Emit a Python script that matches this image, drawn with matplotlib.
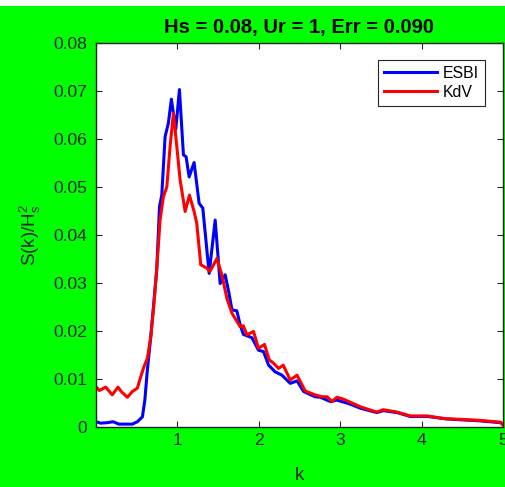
import matplotlib
matplotlib.use("Agg")
import matplotlib.pyplot as plt
from matplotlib.patches import Rectangle

# ---- data ----
k_esbi = [0.0, 0.057, 0.14, 0.21, 0.28, 0.385, 0.447, 0.508, 0.57, 0.60, 0.631, 0.673,
          0.713, 0.746, 0.78, 0.808, 0.849, 0.889, 0.926, 0.98, 1.025, 1.074, 1.107,
          1.144, 1.205, 1.267, 1.312, 1.39, 1.464, 1.525, 1.587, 1.63, 1.67, 1.73,
          1.771, 1.81, 1.915, 1.996, 2.058, 2.12, 2.2, 2.284, 2.386, 2.47, 2.55,
          2.69, 2.755, 2.88, 2.96, 3.1, 3.25, 3.45, 3.53, 3.7, 3.86, 4.07, 4.3,
          4.48, 4.7, 4.97, 5.0]
s_esbi = [0.0011, 0.0008, 0.0009, 0.0011, 0.0006, 0.0006, 0.0006, 0.0011, 0.0021, 0.0056,
          0.0119, 0.0188, 0.0265, 0.0327, 0.0459, 0.0483, 0.0605, 0.0633, 0.0683, 0.0620,
          0.0703, 0.0567, 0.0563, 0.0521, 0.0551, 0.0466, 0.0456, 0.0320, 0.0431, 0.0299,
          0.0317, 0.0282, 0.0244, 0.0242, 0.0213, 0.0193, 0.0186, 0.0160, 0.0157, 0.0129,
          0.0115, 0.0108, 0.0091, 0.0096, 0.0074, 0.0063, 0.0062, 0.0053, 0.0056, 0.0049,
          0.0039, 0.0030, 0.0034, 0.0030, 0.0022, 0.0022, 0.0017, 0.0015, 0.0013, 0.0009,
          0.0005]

k_kdv = [0.0, 0.04, 0.12, 0.2, 0.27, 0.31, 0.385, 0.447, 0.508, 0.55, 0.59, 0.631, 0.673,
         0.713, 0.754, 0.787, 0.828, 0.87, 0.91, 0.951, 0.993, 1.033, 1.095, 1.148,
         1.205, 1.238, 1.287, 1.36, 1.40, 1.485, 1.546, 1.608, 1.67, 1.71, 1.771, 1.81,
         1.853, 1.935, 1.996, 2.07, 2.128, 2.18, 2.243, 2.3, 2.386, 2.47, 2.57, 2.69,
         2.776, 2.84, 2.9, 2.96, 3.04, 3.25, 3.45, 3.53, 3.7, 3.86, 4.07, 4.3, 4.48,
         4.7, 4.97, 5.0]
s_kdv = [0.0084, 0.0076, 0.0083, 0.0067, 0.0083, 0.0074, 0.0062, 0.0074, 0.0081, 0.0105,
         0.0126, 0.0143, 0.0188, 0.0258, 0.0348, 0.0431, 0.0480, 0.0500, 0.0584, 0.0654,
         0.0584, 0.0515, 0.0449, 0.0483, 0.0449, 0.0424, 0.0338, 0.0331, 0.0324, 0.0351,
         0.0317, 0.0268, 0.0237, 0.0226, 0.0209, 0.0211, 0.0192, 0.0199, 0.0164, 0.0172,
         0.0140, 0.0133, 0.0122, 0.0129, 0.0098, 0.0108, 0.0075, 0.0067, 0.0063, 0.0063,
         0.0053, 0.0062, 0.0058, 0.0042, 0.0031, 0.0036, 0.0031, 0.0023, 0.0023, 0.0017,
         0.0016, 0.0014, 0.0010, 0.0004]

x_ticks = [1, 2, 3, 4, 5]
y_ticks = [0, 0.01, 0.02, 0.03, 0.04, 0.05, 0.06, 0.07, 0.08]
y_tick_labels = ["0", "0.01", "0.02", "0.03", "0.04", "0.05", "0.06", "0.07", "0.08"]
title_text = "Hs = 0.08, Ur = 1, Err = 0.090"

# ---- style ----
plt.rcParams['font.family'] = ['Liberation Sans', 'DejaVu Sans']
plt.rcParams['mathtext.fontset'] = 'custom'
plt.rcParams['mathtext.rm'] = 'Liberation Sans'
plt.rcParams['mathtext.it'] = 'Liberation Sans'
plt.rcParams['mathtext.default'] = 'regular'

W, H = 506, 487
fig = plt.figure(figsize=(W / 100, H / 100), dpi=100)
fig.patch.set_facecolor('#00ff00')
fig.patches.append(Rectangle((0, 1 - 6 / H), 1, 6 / H, transform=fig.transFigure,
                             facecolor='white', edgecolor='none', zorder=-1))

ax = fig.add_axes([96 / W, 1 - 427 / H, 407 / W, 384 / H])
ax.set_facecolor('white')

ax.plot(k_esbi, s_esbi, color='#0000ff', lw=2.2, label='ESBI', solid_joinstyle='round')
ax.plot(k_kdv, s_kdv, color='#ff0000', lw=2.2, label='KdV', solid_joinstyle='round')

ax.set_xlim(0, 5)
ax.set_ylim(0, 0.08)
ax.set_xticks(x_ticks)
ax.set_xticklabels([str(t) for t in x_ticks])
ax.set_yticks(y_ticks)
ax.set_yticklabels(y_tick_labels)

gray = '#262626'
for sp in ax.spines.values():
    sp.set_color(gray)
    sp.set_linewidth(1.0)
ax.tick_params(axis='both', direction='in', length=4, width=0.8, colors=gray,
               labelsize=12.6, top=True, right=True)
ax.tick_params(axis='x', pad=4)
ax.tick_params(axis='y', pad=6.5)

ax.set_title(title_text, fontsize=14.5, fontweight='bold', pad=7, color='black')
ax.set_xlabel('k', fontsize=13.5, color=gray)
ax.xaxis.set_label_coords(0.5, -0.105)
ax.set_ylabel('S(k)/H$_s^2$', fontsize=13.5, color=gray)
ax.yaxis.set_label_coords(-0.13, 0.5)

leg = ax.legend(loc='upper right', bbox_to_anchor=(0.956, 0.956), borderaxespad=0,
                fontsize=11.4, handlelength=3.4, handletextpad=0.36, labelspacing=0.23,
                borderpad=0.38, fancybox=False, framealpha=1, edgecolor=gray)
leg.get_frame().set_linewidth(0.8)
for t in leg.get_texts():
    t.set_color('black')

fig.savefig('out.png', dpi=100, facecolor=fig.get_facecolor())
